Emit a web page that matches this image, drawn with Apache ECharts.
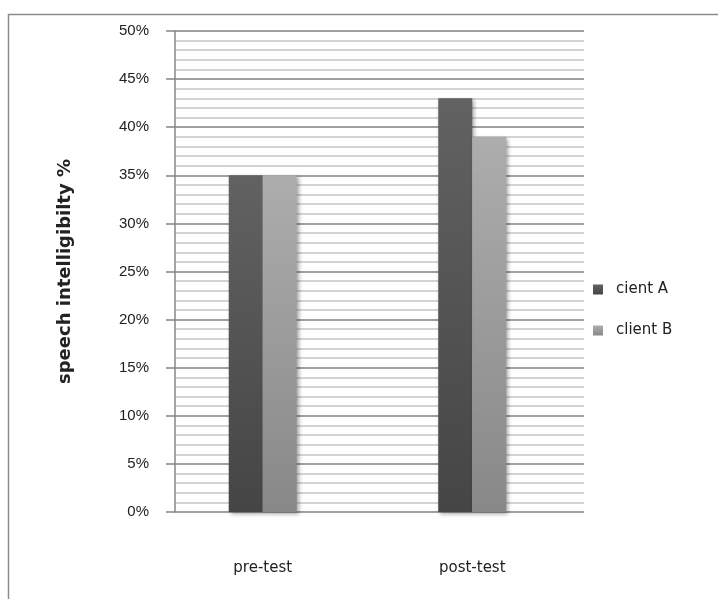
<!DOCTYPE html>
<html>
<head>
<meta charset="utf-8">
<script src="https://cdn.jsdelivr.net/npm/echarts@6/dist/echarts.min.js"></script>
<style>
  html, body { margin: 0; padding: 0; background: #ffffff; }
  #chart { width: 718px; height: 599px; }
</style>
</head>
<body>
<div id="chart"></div>
<script>
// Speech intelligibility before and after therapy, per client
const categories = ['pre-test', 'post-test'];
const clientA = [35, 43];
const clientB = [35, 39];
const seriesNames = ['cient A', 'client B'];
const yMin = 0, yMax = 50, yStep = 5;

const FONT = 'DejaVu Sans';
const NUM_FONT = 'Liberation Sans';

function barGradient(top, bottom) {
  return new echarts.graphic.LinearGradient(0, 0, 0, 1, [
    { offset: 0, color: top },
    { offset: 1, color: bottom }
  ]);
}

const barShadow = {
  shadowBlur: 4,
  shadowOffsetX: 2,
  shadowOffsetY: 2,
  shadowColor: 'rgba(0,0,0,0.35)'
};

const chart = echarts.init(document.getElementById('chart'), null, { renderer: 'canvas' });

chart.setOption({
  backgroundColor: '#ffffff',
  animation: false,
  textStyle: { fontFamily: FONT },
  graphic: [{
    type: 'rect',
    silent: true,
    shape: { x: 8.5, y: 14.5, width: 800, height: 700 },
    style: { fill: 'none', stroke: '#8c8c8c', lineWidth: 1.5 }
  }],
  legend: {
    orient: 'vertical',
    left: 588,
    top: 277,
    icon: 'rect',
    itemWidth: 10,
    itemHeight: 10,
    itemGap: 26,
    data: seriesNames,
    textStyle: { fontFamily: FONT, fontSize: 15, color: '#222', padding: [0, 0, 0, 8] }
  },
  grid: [
    // gridline area with the value axis
    { left: 175, right: 134, top: 31, bottom: 87, containLabel: false },
    // bar area with the category axis
    { left: 158, right: 141, top: 31, bottom: 87, containLabel: false }
  ],
  xAxis: [
    { type: 'value', gridIndex: 0, show: false, min: 0, max: 1 },
    {
      type: 'category',
      gridIndex: 1,
      data: categories,
      axisLine: { show: false },
      axisTick: { show: false },
      splitLine: { show: false },
      axisLabel: { margin: 49, fontSize: 15, color: '#222', fontFamily: FONT }
    }
  ],
  yAxis: [
    {
      type: 'value',
      gridIndex: 0,
      min: yMin,
      max: yMax,
      interval: yStep,
      name: 'speech intelligibilty %',
      nameLocation: 'middle',
      nameGap: 101,
      nameTextStyle: { fontFamily: FONT, fontSize: 18, fontWeight: 'bold', color: '#222' },
      axisLine: { show: true, lineStyle: { color: '#878787', width: 1.5 } },
      axisTick: { show: true, inside: false, length: 9, lineStyle: { color: '#878787', width: 1.5 } },
      axisLabel: {
        formatter: '{value}%',
        margin: 26,
        fontSize: 15,
        color: '#222',
        fontFamily: NUM_FONT
      },
      splitLine: { show: true, lineStyle: { color: '#a0a0a0', width: 2 } },
      minorTick: { show: false, splitNumber: 5 },
      minorSplitLine: { show: true, lineStyle: { color: '#c6c6c6', width: 1.5 } }
    },
    { type: 'value', gridIndex: 1, min: yMin, max: yMax, show: false }
  ],
  series: [
    {
      name: seriesNames[0],
      type: 'bar',
      xAxisIndex: 1,
      yAxisIndex: 1,
      data: clientA,
      barWidth: 34,
      barGap: '0%',
      itemStyle: Object.assign({ color: barGradient('#626262', '#454545') }, barShadow)
    },
    {
      name: seriesNames[1],
      type: 'bar',
      xAxisIndex: 1,
      yAxisIndex: 1,
      data: clientB,
      barWidth: 34,
      barGap: '0%',
      itemStyle: Object.assign({ color: barGradient('#adadad', '#888888') }, barShadow)
    }
  ]
});
</script>
</body>
</html>
